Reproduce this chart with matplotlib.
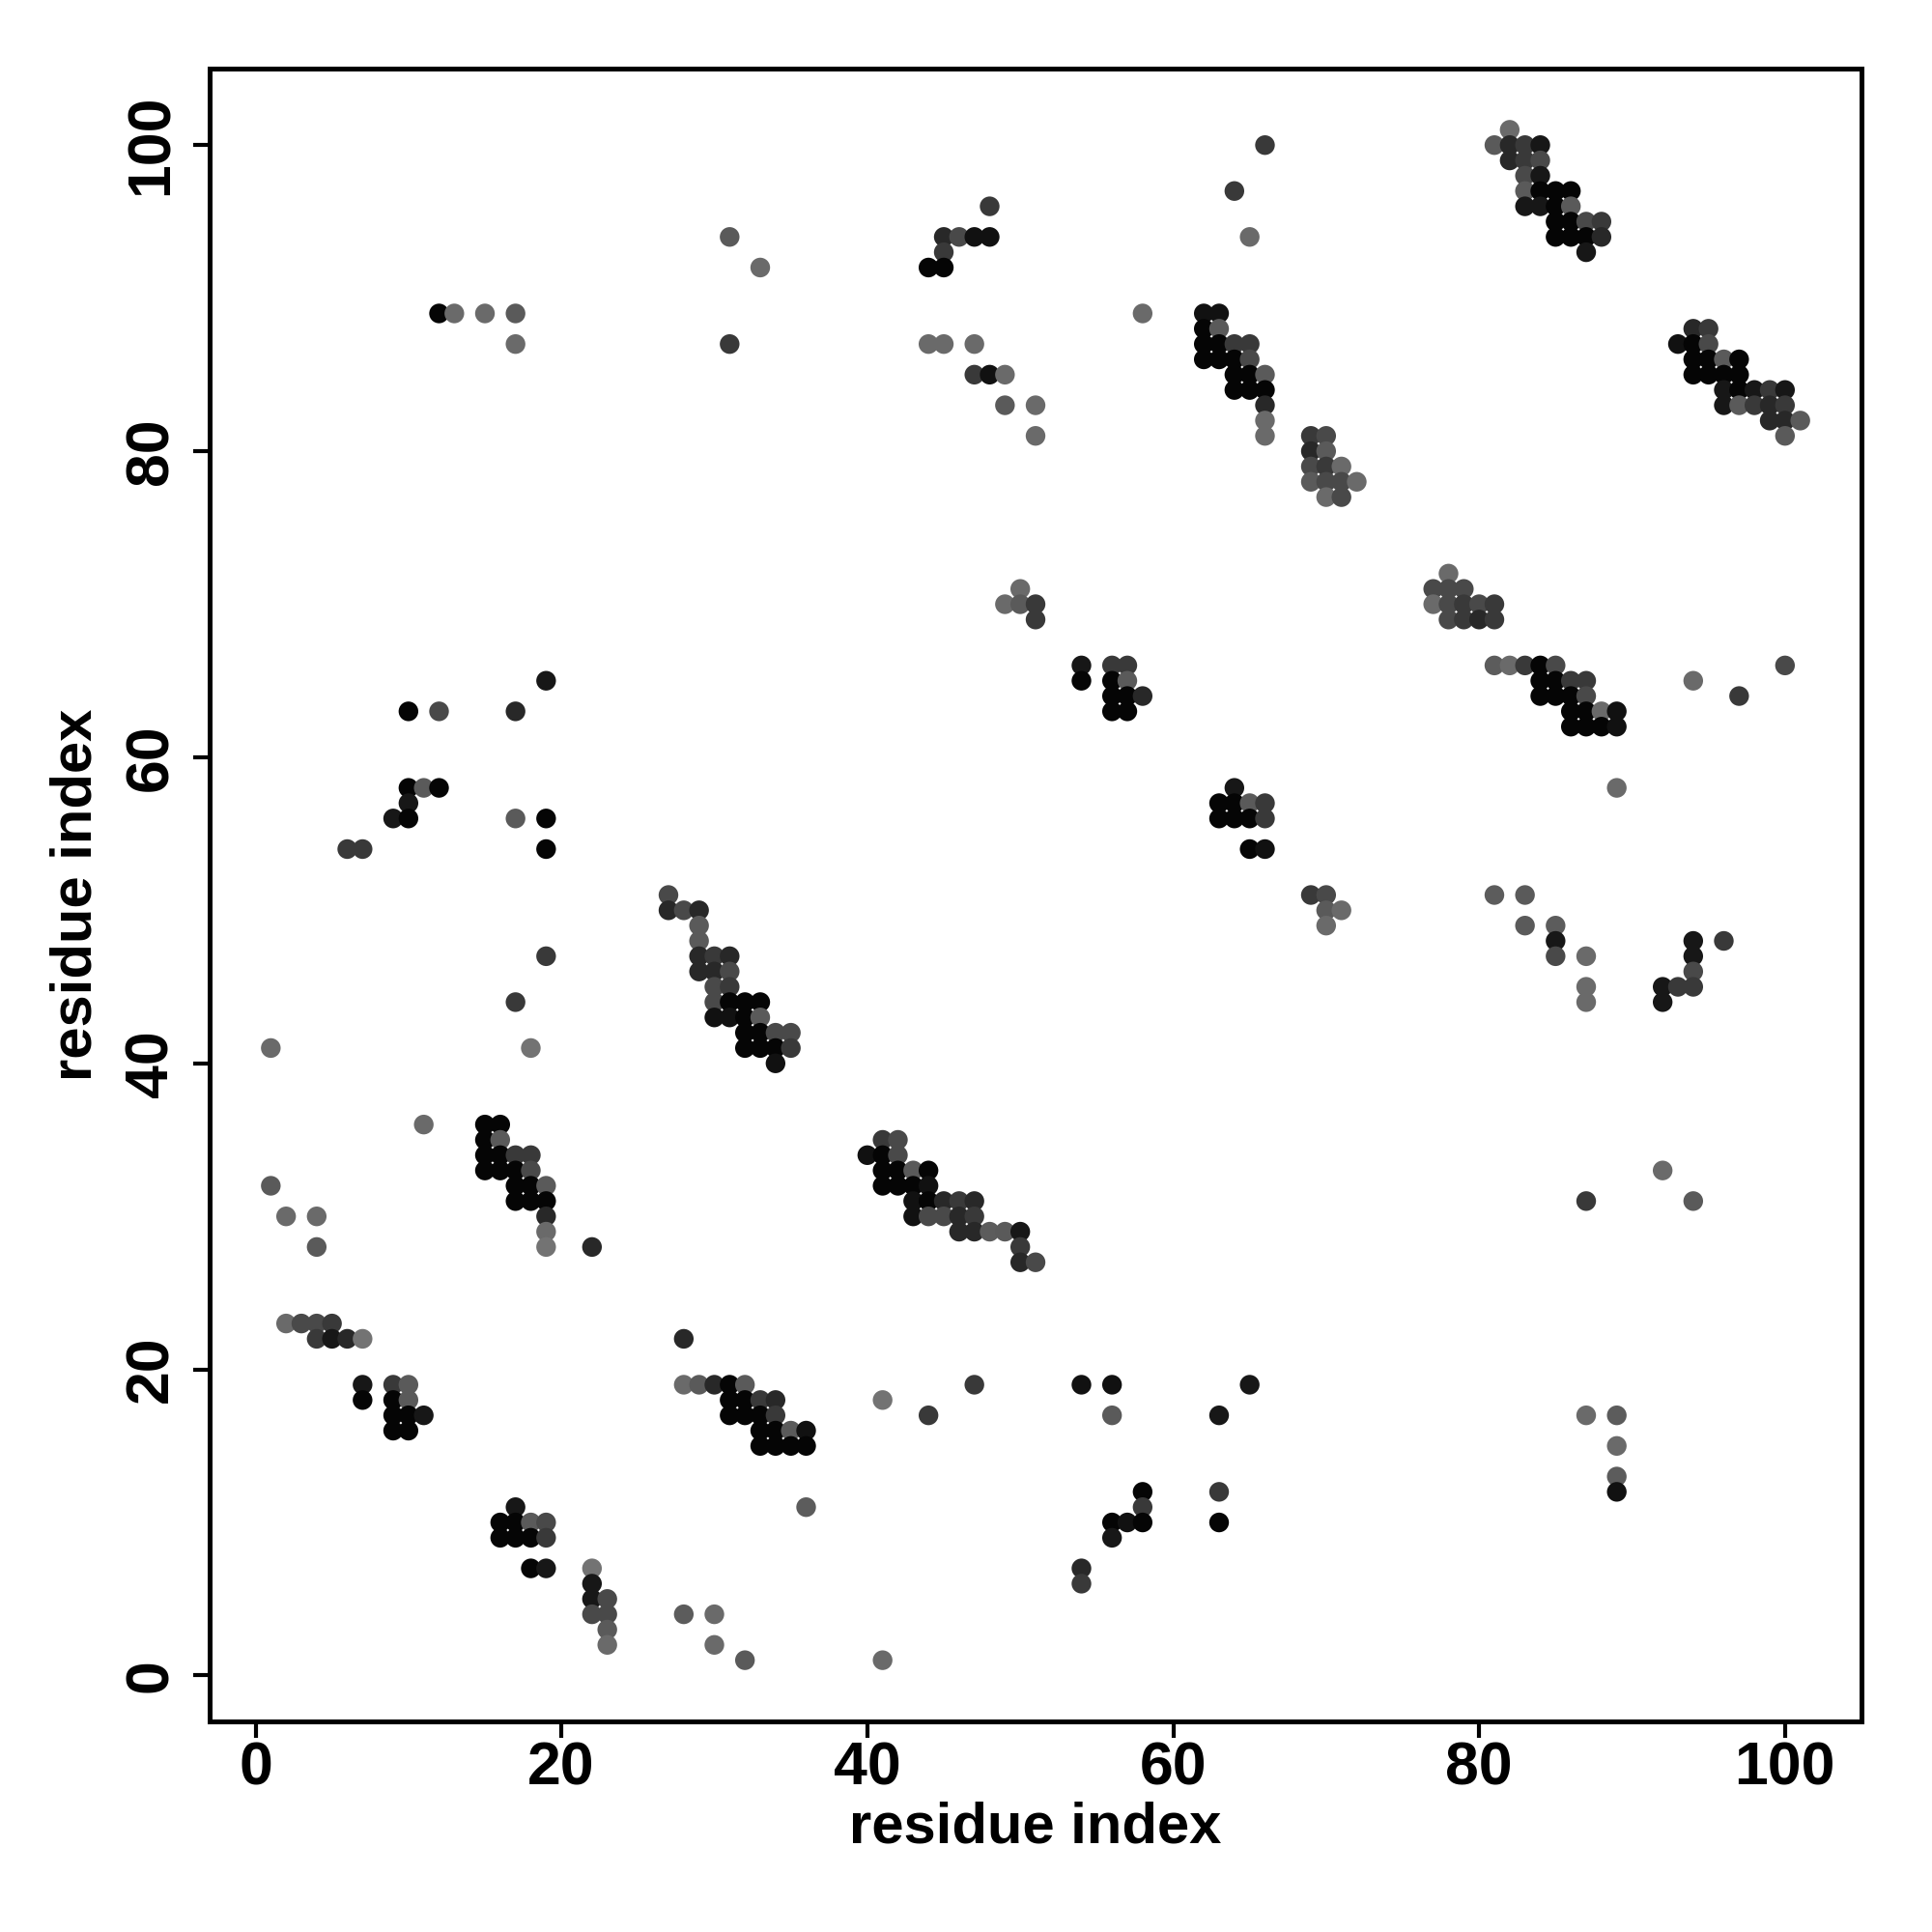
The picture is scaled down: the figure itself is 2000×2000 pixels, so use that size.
import matplotlib
matplotlib.use("Agg")
import matplotlib.pyplot as plt
from matplotlib.colors import LinearSegmentedColormap

plt.rcParams['font.family'] = ['Liberation Sans', 'DejaVu Sans']

# contact map: residue pairs (i, j) and contact score (0 = weak/light, 1 = strong/black)
res_i = [
    12, 13, 15, 17, 17,
    48, 31, 33, 45, 46, 47, 48, 45, 44, 45,
    31, 44, 45, 47, 47, 48, 49, 49, 51, 51,
    50, 49, 50, 51, 51,
    66, 64, 65, 58, 62, 63, 62, 63,
    62, 63, 64, 65, 62, 63, 64, 65,
    64, 65, 66, 64, 65, 66, 66, 66, 66,
    69, 70, 69, 70, 69, 70, 71,
    69, 70, 71, 72, 70, 71,
    82, 81, 82, 83, 84, 82, 83, 84, 83, 84,
    83, 84, 85, 86, 83, 84, 85, 86,
    85, 86, 87, 88, 85, 86, 87, 88, 87,
    94, 95, 93, 94, 95, 94, 95, 96, 97,
    94, 95, 96, 97, 96, 97, 98, 99, 100,
    96, 97, 98, 99, 100, 99, 100, 101, 100,
    78, 77, 78, 79, 77, 78, 79, 80, 81,
    78, 79, 80, 81,
    19, 10, 12, 17, 10, 11, 12, 10, 9, 10, 17, 19,
    6, 7, 19, 19, 17, 1, 18, 11,
    15, 16, 15, 16, 15, 16, 17, 18,
    15, 16, 17, 18, 17, 18, 19, 17, 18, 19,
    19, 19, 19, 22,
    1, 2, 4, 4, 2, 3, 4, 5, 4, 5, 6, 7,
    7, 9, 10, 7, 9, 10, 9, 10, 11, 9, 10,
    17, 16, 17, 18, 19, 16, 17, 18, 19, 18, 19,
    22, 22, 22, 23, 22, 23, 23, 23,
    27, 27, 28, 29, 29, 29, 29, 30, 31,
    29, 30, 31, 30, 31, 30, 31, 32, 33,
    30, 31, 32, 33, 32, 33, 34, 35,
    32, 33, 34, 35, 34,
    41, 42, 40, 41, 42, 41, 42, 43, 44,
    41, 42, 43, 44, 43, 44, 45, 46, 47,
    43, 44, 45, 46, 47, 46, 47, 48, 49, 50,
    50, 50, 51,
    28, 28, 29, 30, 31, 32, 31, 32, 33, 34,
    31, 32, 33, 34, 33, 34, 35, 36, 33, 34, 35, 36,
    41, 44, 47, 36, 28, 30, 30, 32, 41,
    54, 56, 57, 54, 56, 57, 56, 57, 58, 56, 57,
    64, 63, 64, 65, 66, 63, 64, 65, 66, 65, 66,
    69, 70, 70, 71, 70,
    81, 82, 83, 84, 85, 84, 85, 86, 87,
    84, 85, 86, 87, 86, 87, 88, 89, 86, 87, 88, 89,
    94, 100, 97, 89, 81, 83, 83, 85, 85, 85, 87, 87, 87,
    94, 96, 94, 94, 94, 92, 93, 92, 92,
    87, 94, 87, 89, 89, 89, 89,
    54, 56, 65, 56, 63, 58, 58, 56, 57, 58, 56, 54, 54, 63, 63,
]

res_j = [
    89, 89, 89, 89, 87,
    96, 94, 92, 94, 94, 94, 94, 93, 92, 92,
    87, 87, 87, 87, 85, 85, 85, 83, 83, 81,
    71, 70, 70, 70, 69,
    100, 97, 94, 89, 89, 89, 88, 88,
    87, 87, 87, 87, 86, 86, 86, 86,
    85, 85, 85, 84, 84, 84, 83, 82, 81,
    81, 81, 80, 80, 79, 79, 79,
    78, 78, 78, 78, 77, 77,
    101, 100, 100, 100, 100, 99, 99, 99, 98, 98,
    97, 97, 97, 97, 96, 96, 96, 96,
    95, 95, 95, 95, 94, 94, 94, 94, 93,
    88, 88, 87, 87, 87, 86, 86, 86, 86,
    85, 85, 85, 85, 84, 84, 84, 84, 84,
    83, 83, 83, 83, 83, 82, 82, 82, 81,
    72, 71, 71, 71, 70, 70, 70, 70, 70,
    69, 69, 69, 69,
    65, 63, 63, 63, 58, 58, 58, 57, 56, 56, 56, 56,
    54, 54, 54, 47, 44, 41, 41, 36,
    36, 36, 35, 35, 34, 34, 34, 34,
    33, 33, 33, 33, 32, 32, 32, 31, 31, 31,
    30, 29, 28, 28,
    32, 30, 30, 28, 23, 23, 23, 23, 22, 22, 22, 22,
    19, 19, 19, 18, 18, 18, 17, 17, 17, 16, 16,
    11, 10, 10, 10, 10, 9, 9, 9, 9, 7, 7,
    7, 6, 5, 5, 4, 4, 3, 2,
    51, 50, 50, 50, 49, 48, 47, 47, 47,
    46, 46, 46, 45, 45, 44, 44, 44, 44,
    43, 43, 43, 43, 42, 42, 42, 42,
    41, 41, 41, 41, 40,
    35, 35, 34, 34, 34, 33, 33, 33, 33,
    32, 32, 32, 32, 31, 31, 31, 31, 31,
    30, 30, 30, 30, 30, 29, 29, 29, 29, 29,
    28, 27, 27,
    22, 19, 19, 19, 19, 19, 18, 18, 18, 18,
    17, 17, 17, 17, 16, 16, 16, 16, 15, 15, 15, 15,
    18, 17, 19, 11, 4, 4, 2, 1, 1,
    66, 66, 66, 65, 65, 65, 64, 64, 64, 63, 63,
    58, 57, 57, 57, 57, 56, 56, 56, 56, 54, 54,
    51, 51, 50, 50, 49,
    66, 66, 66, 66, 66, 65, 65, 65, 65,
    64, 64, 64, 64, 63, 63, 63, 63, 62, 62, 62, 62,
    65, 66, 64, 58, 51, 51, 49, 49, 48, 47, 47, 45, 44,
    48, 48, 47, 46, 45, 45, 45, 44, 33,
    31, 31, 17, 17, 15, 13, 12,
    19, 19, 19, 17, 17, 12, 11, 10, 10, 10, 9, 7, 6, 12, 10,
]

score = [
    .95, .08, .08, .22, .08,
    .5, .22, .08, .65, .37, .85, .85, .5, .95, .95,
    .5, .08, .08, .08, .5, .85, .08, .22, .08, .08,
    .08, .08, .22, .5, .5,
    .5, .5, .08, .08, .85, .85, .95, .22,
    .95, .95, .5, .5, .95, .95, .95, .37,
    .95, .95, .22, .95, .95, .95, .65, .08, .08,
    .5, .37, .65, .22, .37, .5, .08,
    .22, .37, .37, .08, .08, .37,
    .08, .22, .65, .5, .8, .65, .5, .37, .37, .8,
    .22, .95, .95, .95, .8, .8, .95, .22,
    .95, .95, .37, .5, .95, .95, .95, .65, .8,
    .65, .5, .85, .95, .37, .95, .95, .22, .95,
    .95, .95, .95, .95, .8, .95, .8, .5, .8,
    .8, .22, .5, .65, .5, .65, .65, .22, .22,
    .08, .37, .37, .37, .08, .37, .5, .37, .5,
    .37, .5, .65, .5,
    .8, .95, .37, .65, .95, .22, .95, .8, .8, .95, .22, .95,
    .5, .5, .95, .5, .5, .08, 0.0, .08,
    .95, .95, .95, .22, .95, .95, .5, .5,
    .95, .95, .95, .37, .95, .95, .22, .95, .95, .95,
    .65, .08, 0.0, .65,
    .22, .08, .08, .22, .08, .37, .37, .5, .5, .8, .65, 0.0,
    .8, .5, .22, .95, .95, .22, .95, .95, .8, .95, .95,
    .8, .95, .95, .22, .37, .95, .95, .95, .5, .95, .8,
    0.0, .8, .8, .37, .37, .37, .22, .08,
    .37, .65, .37, .65, .22, .22, .65, .5, .65,
    .65, .65, .37, .37, .5, .37, .95, .95, .95,
    .85, .85, .95, .22, .95, .95, .37, .37,
    .95, .95, .95, .5, .85,
    .5, .37, .85, .95, .37, .95, .95, .22, .95,
    .95, .95, .95, .85, .85, .95, .65, .5, .65,
    .85, .37, .37, .65, .5, .65, .65, .2, .22, .8,
    .5, .65, .37,
    .65, .08, .22, .65, .95, .22, .95, .95, .5, .65,
    .95, .95, .95, .5, .95, .95, .22, .85, .95, .95, .95, .95,
    0.0, .5, .5, .2, .2, .08, .08, .22, .08,
    .8, .5, .5, .95, .95, .22, .95, .95, .65, .95, .95,
    .8, .95, .95, .22, .5, .95, .95, .95, .5, .95, .85,
    .5, .37, .22, .08, .08,
    .2, .08, .5, .95, .37, .95, .95, .5, .5,
    .95, .95, .95, .37, .95, .95, .08, .85, .95, .95, .95, .85,
    .08, .37, .5, .08, .2, .22, .22, .2, .8, .37, .08, .08, .08,
    .8, .5, .8, .37, .5, .8, .5, .8, .08,
    .5, .22, .08, .2, .08, .2, .85,
    .85, .85, .8, .22, .8, .95, .5, .95, .85, .95, .8, .65, .5, .5, .95,
]

assert len(res_i) == len(res_j) == len(score)

grey_map = LinearSegmentedColormap.from_list('contact_grey', ['#737373', '#000000'])

fig = plt.figure(figsize=(20, 20), dpi=100)
ax = fig.add_axes([0.1085, 0.109, 0.855, 0.8555])

ax.scatter(res_i, res_j, c=score, cmap=grey_map, vmin=0, vmax=1,
           s=215, edgecolors='none')

ax.set_xlim(-3, 105)
ax.set_ylim(-3, 105)
ticks = [0, 20, 40, 60, 80, 100]
ax.set_xticks(ticks)
ax.set_yticks(ticks)

for side in ax.spines.values():
    side.set_linewidth(3.6)

ax.tick_params(axis='both', direction='out', length=12, width=3, labelsize=45)
ax.tick_params(axis='x', pad=2)
ax.tick_params(axis='y', pad=10)
for lab in ax.get_xticklabels():
    lab.set_fontweight('bold')
for lab in ax.get_yticklabels():
    lab.set_fontweight('bold')
    lab.set_rotation(90)
    lab.set_va('center')

ax.set_xlabel('residue index', fontsize=43, fontweight='bold', va='center')
ax.xaxis.set_label_coords(0.5, -0.0643)
ax.set_ylabel('residue index', fontsize=43, fontweight='bold', va='center')
ax.yaxis.set_label_coords(-0.0807, 0.5)

fig.savefig('out.png', dpi=100, facecolor='white')
